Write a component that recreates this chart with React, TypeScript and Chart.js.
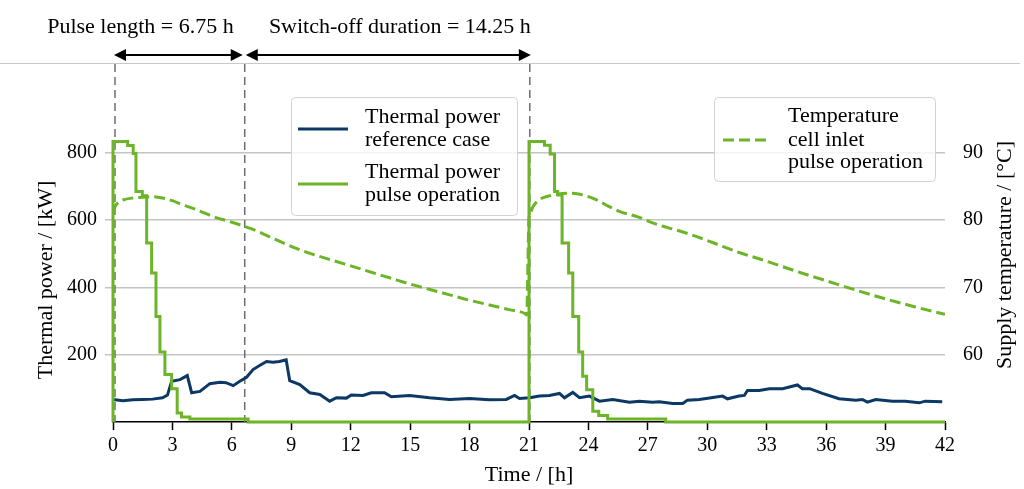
import React, { useEffect, useRef } from 'react';
import { Chart, registerables } from 'chart.js';

Chart.register(...registerables);

// ---------- data ----------
const xTickStep = 3;
const leftTickStep = 200;
const rightTickStep = 10;

// Thermal power, reference case [kW]
const refTime = [0, 0.5, 1, 1.5, 2, 2.5, 2.75, 2.96, 3.38, 3.75, 3.97, 4.39, 4.89, 5.4, 5.7, 6.07, 6.4, 6.74, 7.07, 7.4, 7.75, 8.08, 8.4, 8.74, 8.92, 9.43, 9.93, 10.44, 10.94, 11.28, 11.78, 12.03, 12.62, 13.04, 13.71, 14.05, 14.97, 15.98, 16.99, 18, 19, 19.85, 20.27, 20.52, 21.03, 21.53, 22.03, 22.54, 22.79, 23.21, 23.55, 24.05, 24.56, 25.23, 26.07, 26.57, 27.24, 27.58, 28.25, 28.76, 29.0, 29.6, 30.2, 30.77, 31.02, 31.6, 31.87, 32.03, 32.62, 33.13, 33.8, 34.55, 34.8, 35.17, 35.81, 36.65, 37.5, 37.83, 38.08, 38.5, 39.34, 40.0, 40.7, 41.0, 41.86];
const refPower = [67, 63, 66, 67, 68, 72, 80, 121, 126, 138, 87, 91, 114, 118, 117, 108, 121, 133, 156, 168, 180, 178, 180, 185, 123, 111, 87, 82, 62, 72, 71, 80, 79, 87, 87, 75, 79, 72, 67, 70, 66, 67, 79, 70, 72, 77, 79, 85, 72, 88, 72, 77, 62, 67, 59, 62, 59, 60, 55, 55, 65, 67, 72, 77, 69, 77, 79, 94, 94, 99, 99, 110, 99, 99, 85, 69, 65, 67, 59, 67, 62, 62, 57, 62, 60];

// Thermal power, pulse operation [kW] (value holds until the next time)
const pulseTime = [0, 0, 0.74, 1.02, 1.16, 1.48, 1.70, 1.95, 2.17, 2.37, 2.62, 2.96, 3.24, 3.46, 3.88, 6.82, 21.0, 21.78, 22.07, 22.29, 22.45, 22.67, 23.0, 23.21, 23.51, 23.71, 23.91, 24.22, 24.52, 24.97, 27.9, 42];
const pulsePower = [0, 834, 822, 798, 685, 673, 532, 443, 314, 208, 141, 99, 27, 15, 9, 0, 834, 823, 797, 685, 675, 532, 443, 314, 208, 136, 96, 32, 19, 9, 0, 0];

// Temperature cell inlet, pulse operation [°C]
const tempTime = [0, 0.1, 0.25, 0.5, 1, 1.5, 2, 2.5, 3, 3.5, 4, 4.5, 5, 6, 7, 8, 9.43, 11, 12, 13, 14, 15, 16, 17, 18, 19, 20, 20.8, 20.88, 21.0, 21.1, 21.2, 21.5, 22, 22.5, 23, 23.5, 24, 24.5, 25, 25.56, 26.5, 27.24, 28, 28.93, 29.8, 30.6, 31.5, 33, 34.5, 36, 37.5, 39, 40.5, 42];
const tempValue = [81.2, 82.0, 82.6, 83.0, 83.3, 83.4, 83.5, 83.3, 82.9, 82.3, 81.8, 81.2, 80.6, 79.7, 78.7, 77.4, 75.6, 74.1, 73.2, 72.3, 71.4, 70.5, 69.7, 68.9, 68.1, 67.4, 66.7, 66.1, 65.9, 80.3, 81.3, 82.0, 83.0, 83.6, 83.9, 84.0, 83.9, 83.5, 82.9, 82.1, 81.3, 80.5, 79.6, 78.9, 78.1, 77.2, 76.3, 75.3, 73.9, 72.4, 71.0, 69.6, 68.3, 67.1, 66.0];

// vertical marker times and span annotations
const markerTimes = [0.1, 6.65, 21.04];
const spanLabels = ['Pulse length = 6.75 h', 'Switch-off duration = 14.25 h'];

const legendLeft = ['Thermal power', 'reference case', 'Thermal power', 'pulse operation'];
const legendRight = ['Temperature', 'cell inlet', 'pulse operation'];
const xTitle = 'Time / [h]';
const yTitle = 'Thermal power / [kW]';
const y2Title = 'Supply temperature / [°C]';

// ---------- styles ----------
const BLUE = '#0b3864';
const GREEN = '#6cb428';
const TEXT = '#000';
const FONT = "'Liberation Serif', 'DejaVu Serif', serif";

const toPoints = (xs: number[], ys: number[]) => xs.map((x, i) => ({ x, y: ys[i] }));

function arrow(ctx: CanvasRenderingContext2D, x1: number, x2: number, y: number) {
  const hl = 12, hw = 6;
  ctx.beginPath();
  ctx.moveTo(x1 + hl - 2, y);
  ctx.lineTo(x2 - hl + 2, y);
  ctx.stroke();
  ctx.beginPath();
  ctx.moveTo(x1, y);
  ctx.lineTo(x1 + hl, y - hw);
  ctx.lineTo(x1 + hl, y + hw);
  ctx.closePath();
  ctx.fill();
  ctx.beginPath();
  ctx.moveTo(x2, y);
  ctx.lineTo(x2 - hl, y - hw);
  ctx.lineTo(x2 - hl, y + hw);
  ctx.closePath();
  ctx.fill();
}

function roundRect(ctx: CanvasRenderingContext2D, x: number, y: number, w: number, h: number, r: number) {
  ctx.beginPath();
  ctx.moveTo(x + r, y);
  ctx.lineTo(x + w - r, y);
  ctx.quadraticCurveTo(x + w, y, x + w, y + r);
  ctx.lineTo(x + w, y + h - r);
  ctx.quadraticCurveTo(x + w, y + h, x + w - r, y + h);
  ctx.lineTo(x + r, y + h);
  ctx.quadraticCurveTo(x, y + h, x, y + h - r);
  ctx.lineTo(x, y + r);
  ctx.quadraticCurveTo(x, y, x + r, y);
  ctx.closePath();
}

const markerPlugin = {
  id: 'markers',
  beforeDatasetsDraw(chart: any) {
    const { ctx, chartArea, scales } = chart;
    ctx.save();
    ctx.strokeStyle = '#6e6e6e';
    ctx.lineWidth = 1.5;
    ctx.setLineDash([8, 5]);
    markerTimes.forEach((t) => {
      const px = scales.x.getPixelForValue(t);
      ctx.beginPath();
      ctx.moveTo(px, 64);
      ctx.lineTo(px, chartArea.bottom);
      ctx.stroke();
    });
    ctx.restore();
  },
};

const overlayPlugin = {
  id: 'overlay',
  afterDraw(chart: any) {
    const { ctx, chartArea, scales } = chart;
    const xs = scales.x;
    ctx.save();
    // separator line
    ctx.strokeStyle = '#c8c8c8';
    ctx.lineWidth = 1;
    ctx.beginPath();
    ctx.moveTo(0, 63.5);
    ctx.lineTo(chart.width - 4, 63.5);
    ctx.stroke();

    // arrows
    const m0 = xs.getPixelForValue(markerTimes[0]);
    const m1 = xs.getPixelForValue(markerTimes[1]);
    const m2 = xs.getPixelForValue(markerTimes[2]);
    ctx.strokeStyle = '#000';
    ctx.fillStyle = '#000';
    ctx.lineWidth = 2;
    arrow(ctx, m0 - 1, m1 - 2, 55);
    arrow(ctx, m1 + 1, m2 + 1, 55);

    // span labels
    ctx.font = `22px ${FONT}`;
    ctx.fillStyle = TEXT;
    ctx.textBaseline = 'alphabetic';
    ctx.textAlign = 'right';
    ctx.fillText(spanLabels[0], m1 - 11, 33);
    ctx.fillText(spanLabels[1], m2 + 1, 33);

    // axis titles
    ctx.textAlign = 'center';
    ctx.fillText(xTitle, (chartArea.left + chartArea.right) / 2, 481);
    ctx.save();
    ctx.translate(52, 280);
    ctx.rotate(-Math.PI / 2);
    ctx.fillText(yTitle, 0, 0);
    ctx.restore();
    ctx.save();
    ctx.translate(1011, 255);
    ctx.rotate(-Math.PI / 2);
    ctx.fillText(y2Title, 0, 0);
    ctx.restore();

    // legend 1
    roundRect(ctx, 291.5, 97.5, 226, 118, 4);
    ctx.fillStyle = 'rgba(255,255,255,0.8)';
    ctx.fill();
    ctx.strokeStyle = '#d2d2d2';
    ctx.lineWidth = 1;
    ctx.stroke();
    ctx.lineWidth = 3;
    ctx.strokeStyle = BLUE;
    ctx.beginPath();
    ctx.moveTo(298, 129);
    ctx.lineTo(348, 129);
    ctx.stroke();
    ctx.strokeStyle = GREEN;
    ctx.beginPath();
    ctx.moveTo(298, 184);
    ctx.lineTo(348, 184);
    ctx.stroke();
    ctx.fillStyle = TEXT;
    ctx.textAlign = 'left';
    const l1y = [123, 146, 178, 201];
    legendLeft.forEach((s, i) => ctx.fillText(s, 365, l1y[i]));

    // legend 2
    roundRect(ctx, 714.5, 97.5, 221, 84, 4);
    ctx.fillStyle = 'rgba(255,255,255,0.8)';
    ctx.fill();
    ctx.strokeStyle = '#d2d2d2';
    ctx.lineWidth = 1;
    ctx.stroke();
    ctx.strokeStyle = GREEN;
    ctx.lineWidth = 3;
    ctx.setLineDash([11, 5]);
    ctx.beginPath();
    ctx.moveTo(723, 140);
    ctx.lineTo(768, 140);
    ctx.stroke();
    ctx.setLineDash([]);
    ctx.fillStyle = TEXT;
    const l2y = [122, 145.5, 168];
    legendRight.forEach((s, i) => ctx.fillText(s, 788, l2y[i]));
    ctx.restore();
  },
};

export default function App() {
  const canvasRef = useRef<HTMLCanvasElement | null>(null);

  useEffect(() => {
    document.body.style.margin = '0';
    const canvas = canvasRef.current;
    if (!canvas) return;
    const tickFont = { family: FONT, size: 20 };
    const chart = new Chart(canvas, {
      type: 'line',
      data: {
        datasets: [
          {
            label: 'Temperature cell inlet pulse operation',
            data: toPoints(tempTime, tempValue),
            yAxisID: 'y2',
            borderColor: GREEN,
            borderWidth: 3,
            borderDash: [11, 5],
            pointRadius: 0,
            cubicInterpolationMode: 'monotone',
            fill: false,
          },
          {
            label: 'Thermal power pulse operation',
            data: toPoints(pulseTime, pulsePower),
            yAxisID: 'y',
            borderColor: GREEN,
            borderWidth: 3,
            stepped: true,
            pointRadius: 0,
            fill: false,
            clip: false,
          },
          {
            label: 'Thermal power reference case',
            data: toPoints(refTime, refPower),
            yAxisID: 'y',
            borderColor: BLUE,
            borderWidth: 3,
            tension: 0,
            pointRadius: 0,
            fill: false,
          },
        ],
      },
      options: {
        responsive: false,
        animation: false,
        devicePixelRatio: 1,
        layout: { padding: { top: 126, left: 0, right: 0, bottom: 0 } },
        plugins: { legend: { display: false }, tooltip: { enabled: false }, title: { display: false } },
        scales: {
          x: {
            type: 'linear',
            min: 0,
            max: 42,
            afterFit: (s: any) => { s.height = 67; },
            ticks: { stepSize: xTickStep, font: tickFont, color: TEXT, padding: 4, maxRotation: 0, autoSkip: false },
            grid: { display: true, drawOnChartArea: false, drawTicks: true, tickLength: 8, tickColor: '#000', tickWidth: 1.5 },
            border: { display: true, color: '#000', width: 1.5 },
          },
          y: {
            type: 'linear',
            position: 'left',
            min: 0,
            max: 880,
            afterFit: (s: any) => { s.width = 113; },
            afterBuildTicks: (s: any) => { s.ticks = s.ticks.filter((t: any) => t.value > 0 && t.value <= 800); },
            ticks: { stepSize: leftTickStep, includeBounds: false, font: tickFont, color: TEXT, padding: 8 },
            grid: { color: '#c4c4c4', lineWidth: 1.5, tickLength: 8, tickColor: '#c4c4c4' },
            border: { display: false },
          },
          y2: {
            type: 'linear',
            position: 'right',
            min: 50,
            max: 94,
            afterFit: (s: any) => { s.width = 79; },
            afterBuildTicks: (s: any) => { s.ticks = s.ticks.filter((t: any) => t.value > 50 && t.value <= 90); },
            ticks: { stepSize: rightTickStep, includeBounds: false, font: tickFont, color: TEXT, padding: 18 },
            grid: { display: false, drawTicks: false },
            border: { display: false },
          },
        },
      } as any,
      plugins: [markerPlugin, overlayPlugin],
    });
    return () => chart.destroy();
  }, []);

  return (
    <div style={{ position: 'absolute', left: 0, top: 0, width: 1024, height: 489, background: '#fff' }}>
      <canvas ref={canvasRef} width={1024} height={489} style={{ width: '1024px', height: '489px', display: 'block' }} />
    </div>
  );
}
